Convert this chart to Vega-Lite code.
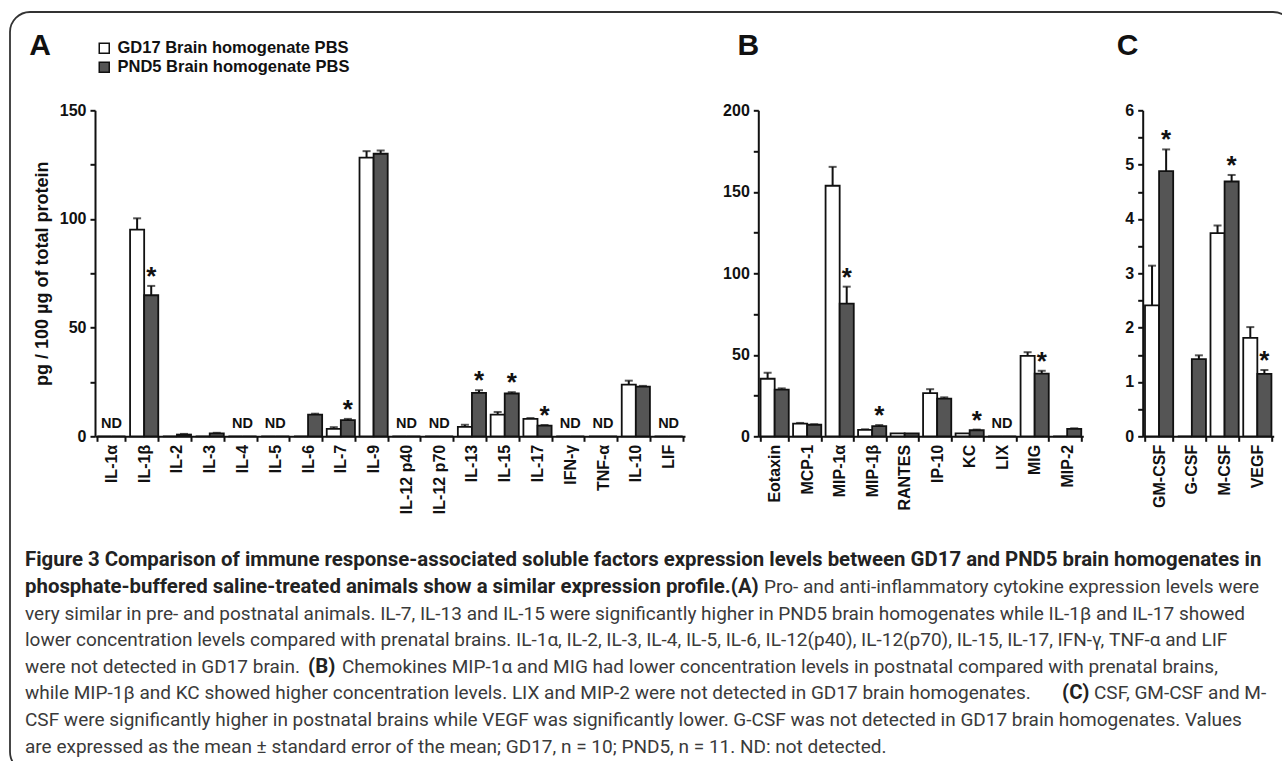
{
  "$schema": "https://vega.github.io/schema/vega-lite/v6.json",
  "background": "white",
  "padding": {"left": 9, "top": 11, "right": 0, "bottom": 0},
  "datasets": {
    "cyto": [
      {"factor": "IL-1α", "group": "GD17 Brain homogenate PBS", "value": 0, "upper": null, "note": "ND"},
      {"factor": "IL-1α", "group": "PND5 Brain homogenate PBS", "value": 0, "upper": null, "note": null},
      {"factor": "IL-1β", "group": "GD17 Brain homogenate PBS", "value": 95.1, "upper": 100.3, "note": null},
      {"factor": "IL-1β", "group": "PND5 Brain homogenate PBS", "value": 64.9, "upper": 69.2, "note": "*"},
      {"factor": "IL-2", "group": "GD17 Brain homogenate PBS", "value": 0, "upper": null, "note": null},
      {"factor": "IL-2", "group": "PND5 Brain homogenate PBS", "value": 0.8, "upper": 1.1, "note": null},
      {"factor": "IL-3", "group": "GD17 Brain homogenate PBS", "value": 0, "upper": null, "note": null},
      {"factor": "IL-3", "group": "PND5 Brain homogenate PBS", "value": 1.3, "upper": 1.6, "note": null},
      {"factor": "IL-4", "group": "GD17 Brain homogenate PBS", "value": 0, "upper": null, "note": "ND"},
      {"factor": "IL-4", "group": "PND5 Brain homogenate PBS", "value": 0, "upper": null, "note": null},
      {"factor": "IL-5", "group": "GD17 Brain homogenate PBS", "value": 0, "upper": null, "note": "ND"},
      {"factor": "IL-5", "group": "PND5 Brain homogenate PBS", "value": 0, "upper": null, "note": null},
      {"factor": "IL-6", "group": "GD17 Brain homogenate PBS", "value": 0, "upper": null, "note": null},
      {"factor": "IL-6", "group": "PND5 Brain homogenate PBS", "value": 10.0, "upper": 10.4, "note": null},
      {"factor": "IL-7", "group": "GD17 Brain homogenate PBS", "value": 3.4, "upper": 4.2, "note": null},
      {"factor": "IL-7", "group": "PND5 Brain homogenate PBS", "value": 7.4, "upper": 8.0, "note": "*"},
      {"factor": "IL-9", "group": "GD17 Brain homogenate PBS", "value": 128.2, "upper": 131.2, "note": null},
      {"factor": "IL-9", "group": "PND5 Brain homogenate PBS", "value": 130.0, "upper": 131.5, "note": null},
      {"factor": "IL-12 p40", "group": "GD17 Brain homogenate PBS", "value": 0, "upper": null, "note": "ND"},
      {"factor": "IL-12 p40", "group": "PND5 Brain homogenate PBS", "value": 0, "upper": null, "note": null},
      {"factor": "IL-12 p70", "group": "GD17 Brain homogenate PBS", "value": 0, "upper": null, "note": "ND"},
      {"factor": "IL-12 p70", "group": "PND5 Brain homogenate PBS", "value": 0, "upper": null, "note": null},
      {"factor": "IL-13", "group": "GD17 Brain homogenate PBS", "value": 4.3, "upper": 5.3, "note": null},
      {"factor": "IL-13", "group": "PND5 Brain homogenate PBS", "value": 20.0, "upper": 21.2, "note": "*"},
      {"factor": "IL-15", "group": "GD17 Brain homogenate PBS", "value": 10.0, "upper": 11.2, "note": null},
      {"factor": "IL-15", "group": "PND5 Brain homogenate PBS", "value": 19.7, "upper": 20.3, "note": "*"},
      {"factor": "IL-17", "group": "GD17 Brain homogenate PBS", "value": 8.0, "upper": 8.4, "note": null},
      {"factor": "IL-17", "group": "PND5 Brain homogenate PBS", "value": 4.9, "upper": 5.2, "note": "*"},
      {"factor": "IFN-γ", "group": "GD17 Brain homogenate PBS", "value": 0, "upper": null, "note": "ND"},
      {"factor": "IFN-γ", "group": "PND5 Brain homogenate PBS", "value": 0, "upper": null, "note": null},
      {"factor": "TNF-α", "group": "GD17 Brain homogenate PBS", "value": 0, "upper": null, "note": "ND"},
      {"factor": "TNF-α", "group": "PND5 Brain homogenate PBS", "value": 0, "upper": null, "note": null},
      {"factor": "IL-10", "group": "GD17 Brain homogenate PBS", "value": 23.8, "upper": 25.6, "note": null},
      {"factor": "IL-10", "group": "PND5 Brain homogenate PBS", "value": 22.9, "upper": 23.2, "note": null},
      {"factor": "LIF", "group": "GD17 Brain homogenate PBS", "value": 0, "upper": null, "note": "ND"},
      {"factor": "LIF", "group": "PND5 Brain homogenate PBS", "value": 0, "upper": null, "note": null}
    ],
    "chemo": [
      {"factor": "Eotaxin", "group": "GD17 Brain homogenate PBS", "value": 35.3, "upper": 39.0, "note": null},
      {"factor": "Eotaxin", "group": "PND5 Brain homogenate PBS", "value": 28.6, "upper": 29.4, "note": null},
      {"factor": "MCP-1", "group": "GD17 Brain homogenate PBS", "value": 7.8, "upper": 8.2, "note": null},
      {"factor": "MCP-1", "group": "PND5 Brain homogenate PBS", "value": 7.1, "upper": 7.4, "note": null},
      {"factor": "MIP-1α", "group": "GD17 Brain homogenate PBS", "value": 153.7, "upper": 165.3, "note": null},
      {"factor": "MIP-1α", "group": "PND5 Brain homogenate PBS", "value": 81.4, "upper": 91.8, "note": "*"},
      {"factor": "MIP-1β", "group": "GD17 Brain homogenate PBS", "value": 3.9, "upper": 4.3, "note": null},
      {"factor": "MIP-1β", "group": "PND5 Brain homogenate PBS", "value": 6.3, "upper": 6.9, "note": "*"},
      {"factor": "RANTES", "group": "GD17 Brain homogenate PBS", "value": 1.8, "upper": null, "note": null},
      {"factor": "RANTES", "group": "PND5 Brain homogenate PBS", "value": 1.8, "upper": null, "note": null},
      {"factor": "IP-10", "group": "GD17 Brain homogenate PBS", "value": 26.5, "upper": 28.9, "note": null},
      {"factor": "IP-10", "group": "PND5 Brain homogenate PBS", "value": 23.1, "upper": 23.9, "note": null},
      {"factor": "KC", "group": "GD17 Brain homogenate PBS", "value": 1.8, "upper": null, "note": null},
      {"factor": "KC", "group": "PND5 Brain homogenate PBS", "value": 3.7, "upper": 4.1, "note": "*"},
      {"factor": "LIX", "group": "GD17 Brain homogenate PBS", "value": 0, "upper": null, "note": "ND"},
      {"factor": "LIX", "group": "PND5 Brain homogenate PBS", "value": 0, "upper": null, "note": null},
      {"factor": "MIG", "group": "GD17 Brain homogenate PBS", "value": 49.4, "upper": 51.6, "note": null},
      {"factor": "MIG", "group": "PND5 Brain homogenate PBS", "value": 38.4, "upper": 40.2, "note": "*"},
      {"factor": "MIP-2", "group": "GD17 Brain homogenate PBS", "value": 0, "upper": null, "note": null},
      {"factor": "MIP-2", "group": "PND5 Brain homogenate PBS", "value": 4.5, "upper": 4.9, "note": null}
    ],
    "csf": [
      {"factor": "GM-CSF", "group": "GD17 Brain homogenate PBS", "value": 2.41, "upper": 3.14, "note": null},
      {"factor": "GM-CSF", "group": "PND5 Brain homogenate PBS", "value": 4.88, "upper": 5.28, "note": "*"},
      {"factor": "G-CSF", "group": "GD17 Brain homogenate PBS", "value": 0, "upper": null, "note": null},
      {"factor": "G-CSF", "group": "PND5 Brain homogenate PBS", "value": 1.42, "upper": 1.49, "note": null},
      {"factor": "M-CSF", "group": "GD17 Brain homogenate PBS", "value": 3.74, "upper": 3.88, "note": null},
      {"factor": "M-CSF", "group": "PND5 Brain homogenate PBS", "value": 4.69, "upper": 4.81, "note": "*"},
      {"factor": "VEGF", "group": "GD17 Brain homogenate PBS", "value": 1.81, "upper": 2.01, "note": null},
      {"factor": "VEGF", "group": "PND5 Brain homogenate PBS", "value": 1.15, "upper": 1.22, "note": "*"}
    ],
    "caption": [
      {"line": 1, "seg": "head", "text": "Figure 3 Comparison of immune response-associated soluble factors expression levels between GD17 and PND5 brain homogenates in"},
      {"line": 2, "seg": "head", "text": "phosphate-buffered saline-treated animals show a similar expression profile.(A)"},
      {"line": 2, "seg": "A-rest", "text": "Pro- and anti-inflammatory cytokine expression levels were"},
      {"line": 3, "seg": "body", "text": "very similar in pre- and postnatal animals. IL-7, IL-13 and IL-15 were significantly higher in PND5 brain homogenates while IL-1β and IL-17 showed"},
      {"line": 4, "seg": "body", "text": "lower concentration levels compared with prenatal brains. IL-1α, IL-2, IL-3, IL-4, IL-5, IL-6, IL-12(p40), IL-12(p70), IL-15, IL-17, IFN-γ, TNF-α and LIF"},
      {"line": 5, "seg": "body", "text": "were not detected in GD17 brain."},
      {"line": 5, "seg": "B-tag", "text": "(B)"},
      {"line": 5, "seg": "B-rest", "text": "Chemokines MIP-1α and MIG had lower concentration levels in postnatal compared with prenatal brains,"},
      {"line": 6, "seg": "body", "text": "while MIP-1β and KC showed higher concentration levels. LIX and MIP-2 were not detected in GD17 brain homogenates."},
      {"line": 6, "seg": "C-tag", "text": "(C)"},
      {"line": 6, "seg": "C-rest", "text": "CSF, GM-CSF and M-"},
      {"line": 7, "seg": "body", "text": "CSF were significantly higher in postnatal brains while VEGF was significantly lower. G-CSF was not detected in GD17 brain homogenates. Values"},
      {"line": 8, "seg": "body", "text": "are expressed as the mean ± standard error of the mean; GD17, n = 10; PND5, n = 11. ND: not detected."}
    ]
  },
  "vconcat": [
    {
      "vconcat": [
        {
          "width": 1283,
          "height": 760,
          "data": {"values": []},
          "mark": "point",
          "view": {"stroke": "#333333", "strokeWidth": 1.8, "cornerRadius": 20, "fill": null}
        }
      ],
      "bounds": "flush"
    },
    {
      "vconcat": [
        {
          "hconcat": [
            {"width": 1, "height": 326, "data": {"values": []}, "mark": "point"},
            {
              "hconcat": [
                {
                  "width": 590,
                  "height": 326,
                  "title": {"text": "A", "dx": -4, "offset": 41},
                  "data": {"name": "cyto"},
                  "encoding": {
                    "x": {"field": "factor", "type": "nominal", "title": null, "sort": ["IL-1α", "IL-1β", "IL-2", "IL-3", "IL-4", "IL-5", "IL-6", "IL-7", "IL-9", "IL-12 p40", "IL-12 p70", "IL-13", "IL-15", "IL-17", "IFN-γ", "TNF-α", "IL-10", "LIF"], "scale": {"paddingInner": 0.14, "paddingOuter": 0.07}}
                  },
                  "layer": [
                    {
                      "transform": [{"filter": "isValid(datum.upper)"}],
                      "mark": {"type": "rule", "color": "#111", "strokeWidth": 2},
                      "encoding": {
                        "xOffset": {"field": "group", "type": "nominal", "scale": {"paddingInner": 0, "paddingOuter": 0}},
                        "y": {"field": "value", "type": "quantitative", "title": "pg / 100 µg of total protein", "scale": {"domain": [0, 150], "nice": false}, "axis": {"values": [0, 25, 50, 75, 100, 125, 150], "labelExpr": "datum.value % 50 === 0 ? datum.label : ''"}},
                        "y2": {"field": "upper"}
                      }
                    },
                    {
                      "transform": [{"filter": "isValid(datum.upper)"}],
                      "mark": {"type": "tick", "orient": "horizontal", "color": "#111", "thickness": 2, "size": 8},
                      "encoding": {
                        "xOffset": {"field": "group", "type": "nominal", "scale": {"paddingInner": 0, "paddingOuter": 0}},
                        "y": {"field": "upper", "type": "quantitative", "title": "pg / 100 µg of total protein", "scale": {"domain": [0, 150], "nice": false}, "axis": {"values": [0, 25, 50, 75, 100, 125, 150], "labelExpr": "datum.value % 50 === 0 ? datum.label : ''"}}
                      }
                    },
                    {
                      "mark": {"type": "bar", "stroke": "#111", "strokeWidth": 1.8},
                      "encoding": {
                        "xOffset": {"field": "group", "type": "nominal", "scale": {"paddingInner": 0, "paddingOuter": 0}},
                        "y": {"field": "value", "type": "quantitative", "title": "pg / 100 µg of total protein", "scale": {"domain": [0, 150], "nice": false}, "axis": {"values": [0, 25, 50, 75, 100, 125, 150], "labelExpr": "datum.value % 50 === 0 ? datum.label : ''"}},
                        "color": {"field": "group", "type": "nominal", "scale": {"domain": ["GD17 Brain homogenate PBS", "PND5 Brain homogenate PBS"], "range": ["#ffffff", "#555555"]}, "legend": {"title": null, "orient": "none", "legendX": 86, "legendY": 28, "symbolType": "square", "symbolSize": 100, "symbolStrokeColor": "#111", "symbolStrokeWidth": 1.5, "labelFont": "Liberation Sans", "labelFontSize": 16.5, "labelFontWeight": "bold", "labelColor": "#111", "labelLimit": 0, "rowPadding": 2, "padding": 0, "labelOffset": 5}}
                      }
                    },
                    {
                      "transform": [{"filter": "datum.note === '*'"}],
                      "mark": {"type": "text", "font": "Liberation Sans", "fontSize": 26, "fontWeight": "bold", "baseline": "alphabetic", "dy": -1, "color": "#111"},
                      "encoding": {
                        "xOffset": {"field": "group", "type": "nominal", "scale": {"paddingInner": 0, "paddingOuter": 0}},
                        "y": {"field": "upper", "type": "quantitative", "title": "pg / 100 µg of total protein", "scale": {"domain": [0, 150], "nice": false}, "axis": {"values": [0, 25, 50, 75, 100, 125, 150], "labelExpr": "datum.value % 50 === 0 ? datum.label : ''"}},
                        "text": {"field": "note"}
                      }
                    },
                    {
                      "transform": [{"filter": "datum.note === 'ND'"}],
                      "mark": {"type": "text", "font": "Liberation Sans", "fontSize": 14.5, "fontWeight": "bold", "baseline": "alphabetic", "dy": -8, "color": "#111"},
                      "encoding": {
                        "y": {"field": "value", "type": "quantitative", "title": "pg / 100 µg of total protein", "scale": {"domain": [0, 150], "nice": false}, "axis": {"values": [0, 25, 50, 75, 100, 125, 150], "labelExpr": "datum.value % 50 === 0 ? datum.label : ''"}},
                        "text": {"field": "note"}
                      }
                    }
                  ]
                },
                {
                  "hconcat": [
                    {
                      "width": 325,
                      "height": 326,
                      "title": {"text": "B", "dx": 15, "offset": 41},
                      "data": {"name": "chemo"},
                      "encoding": {
                        "x": {"field": "factor", "type": "nominal", "title": null, "sort": ["Eotaxin", "MCP-1", "MIP-1α", "MIP-1β", "RANTES", "IP-10", "KC", "LIX", "MIG", "MIP-2"], "scale": {"paddingInner": 0.14, "paddingOuter": 0.07}}
                      },
                      "layer": [
                        {
                          "transform": [{"filter": "isValid(datum.upper)"}],
                          "mark": {"type": "rule", "color": "#111", "strokeWidth": 2},
                          "encoding": {
                            "xOffset": {"field": "group", "type": "nominal", "scale": {"paddingInner": 0, "paddingOuter": 0}},
                            "y": {"field": "value", "type": "quantitative", "title": null, "scale": {"domain": [0, 200], "nice": false}, "axis": {"values": [0, 25, 50, 75, 100, 125, 150, 175, 200], "labelExpr": "datum.value % 50 === 0 ? datum.label : ''"}},
                            "y2": {"field": "upper"}
                          }
                        },
                        {
                          "transform": [{"filter": "isValid(datum.upper)"}],
                          "mark": {"type": "tick", "orient": "horizontal", "color": "#111", "thickness": 2, "size": 8},
                          "encoding": {
                            "xOffset": {"field": "group", "type": "nominal", "scale": {"paddingInner": 0, "paddingOuter": 0}},
                            "y": {"field": "upper", "type": "quantitative", "title": null, "scale": {"domain": [0, 200], "nice": false}, "axis": {"values": [0, 25, 50, 75, 100, 125, 150, 175, 200], "labelExpr": "datum.value % 50 === 0 ? datum.label : ''"}}
                          }
                        },
                        {
                          "mark": {"type": "bar", "stroke": "#111", "strokeWidth": 1.8},
                          "encoding": {
                            "xOffset": {"field": "group", "type": "nominal", "scale": {"paddingInner": 0, "paddingOuter": 0}},
                            "y": {"field": "value", "type": "quantitative", "title": null, "scale": {"domain": [0, 200], "nice": false}, "axis": {"values": [0, 25, 50, 75, 100, 125, 150, 175, 200], "labelExpr": "datum.value % 50 === 0 ? datum.label : ''"}},
                            "color": {"field": "group", "type": "nominal", "scale": {"domain": ["GD17 Brain homogenate PBS", "PND5 Brain homogenate PBS"], "range": ["#ffffff", "#555555"]}, "legend": {"title": null, "orient": "none", "legendX": 86, "legendY": 28, "symbolType": "square", "symbolSize": 100, "symbolStrokeColor": "#111", "symbolStrokeWidth": 1.5, "labelFont": "Liberation Sans", "labelFontSize": 16.5, "labelFontWeight": "bold", "labelColor": "#111", "labelLimit": 0, "rowPadding": 2, "padding": 0, "labelOffset": 5}}
                          }
                        },
                        {
                          "transform": [{"filter": "datum.note === '*'"}],
                          "mark": {"type": "text", "font": "Liberation Sans", "fontSize": 26, "fontWeight": "bold", "baseline": "alphabetic", "dy": -1, "color": "#111"},
                          "encoding": {
                            "xOffset": {"field": "group", "type": "nominal", "scale": {"paddingInner": 0, "paddingOuter": 0}},
                            "y": {"field": "upper", "type": "quantitative", "title": null, "scale": {"domain": [0, 200], "nice": false}, "axis": {"values": [0, 25, 50, 75, 100, 125, 150, 175, 200], "labelExpr": "datum.value % 50 === 0 ? datum.label : ''"}},
                            "text": {"field": "note"}
                          }
                        },
                        {
                          "transform": [{"filter": "datum.note === 'ND'"}],
                          "mark": {"type": "text", "font": "Liberation Sans", "fontSize": 14.5, "fontWeight": "bold", "baseline": "alphabetic", "dy": -8, "color": "#111"},
                          "encoding": {
                            "y": {"field": "value", "type": "quantitative", "title": null, "scale": {"domain": [0, 200], "nice": false}, "axis": {"values": [0, 25, 50, 75, 100, 125, 150, 175, 200], "labelExpr": "datum.value % 50 === 0 ? datum.label : ''"}},
                            "text": {"field": "note"}
                          }
                        }
                      ]
                    },
                    {
                      "width": 131,
                      "height": 326,
                      "title": {"text": "C", "dx": -8, "offset": 41},
                      "data": {"name": "csf"},
                      "encoding": {
                        "x": {"field": "factor", "type": "nominal", "title": null, "sort": ["GM-CSF", "G-CSF", "M-CSF", "VEGF"], "scale": {"paddingInner": 0.14, "paddingOuter": 0.07}}
                      },
                      "layer": [
                        {
                          "transform": [{"filter": "isValid(datum.upper)"}],
                          "mark": {"type": "rule", "color": "#111", "strokeWidth": 2},
                          "encoding": {
                            "xOffset": {"field": "group", "type": "nominal", "scale": {"paddingInner": 0, "paddingOuter": 0}},
                            "y": {"field": "value", "type": "quantitative", "title": null, "scale": {"domain": [0, 6], "nice": false}, "axis": {"values": [0, 0.5, 1, 1.5, 2, 2.5, 3, 3.5, 4, 4.5, 5, 5.5, 6], "labelExpr": "datum.value % 1 === 0 ? format(datum.value, 'd') : ''"}},
                            "y2": {"field": "upper"}
                          }
                        },
                        {
                          "transform": [{"filter": "isValid(datum.upper)"}],
                          "mark": {"type": "tick", "orient": "horizontal", "color": "#111", "thickness": 2, "size": 8},
                          "encoding": {
                            "xOffset": {"field": "group", "type": "nominal", "scale": {"paddingInner": 0, "paddingOuter": 0}},
                            "y": {"field": "upper", "type": "quantitative", "title": null, "scale": {"domain": [0, 6], "nice": false}, "axis": {"values": [0, 0.5, 1, 1.5, 2, 2.5, 3, 3.5, 4, 4.5, 5, 5.5, 6], "labelExpr": "datum.value % 1 === 0 ? format(datum.value, 'd') : ''"}}
                          }
                        },
                        {
                          "mark": {"type": "bar", "stroke": "#111", "strokeWidth": 1.8},
                          "encoding": {
                            "xOffset": {"field": "group", "type": "nominal", "scale": {"paddingInner": 0, "paddingOuter": 0}},
                            "y": {"field": "value", "type": "quantitative", "title": null, "scale": {"domain": [0, 6], "nice": false}, "axis": {"values": [0, 0.5, 1, 1.5, 2, 2.5, 3, 3.5, 4, 4.5, 5, 5.5, 6], "labelExpr": "datum.value % 1 === 0 ? format(datum.value, 'd') : ''"}},
                            "color": {"field": "group", "type": "nominal", "scale": {"domain": ["GD17 Brain homogenate PBS", "PND5 Brain homogenate PBS"], "range": ["#ffffff", "#555555"]}, "legend": {"title": null, "orient": "none", "legendX": 86, "legendY": 28, "symbolType": "square", "symbolSize": 100, "symbolStrokeColor": "#111", "symbolStrokeWidth": 1.5, "labelFont": "Liberation Sans", "labelFontSize": 16.5, "labelFontWeight": "bold", "labelColor": "#111", "labelLimit": 0, "rowPadding": 2, "padding": 0, "labelOffset": 5}}
                          }
                        },
                        {
                          "transform": [{"filter": "datum.note === '*'"}],
                          "mark": {"type": "text", "font": "Liberation Sans", "fontSize": 26, "fontWeight": "bold", "baseline": "alphabetic", "dy": -1, "color": "#111"},
                          "encoding": {
                            "xOffset": {"field": "group", "type": "nominal", "scale": {"paddingInner": 0, "paddingOuter": 0}},
                            "y": {"field": "upper", "type": "quantitative", "title": null, "scale": {"domain": [0, 6], "nice": false}, "axis": {"values": [0, 0.5, 1, 1.5, 2, 2.5, 3, 3.5, 4, 4.5, 5, 5.5, 6], "labelExpr": "datum.value % 1 === 0 ? format(datum.value, 'd') : ''"}},
                            "text": {"field": "note"}
                          }
                        }
                      ]
                    }
                  ],
                  "spacing": 59.4,
                  "bounds": "flush"
                }
              ],
              "spacing": 73.3,
              "bounds": "flush"
            }
          ],
          "spacing": 84,
          "bounds": "flush"
        },
        {
          "width": 1240,
          "height": 213,
          "data": {"name": "caption"},
          "encoding": {
            "y": {"field": "line", "type": "ordinal", "axis": null, "scale": {"type": "point", "padding": 0.5}},
            "x": {"value": 0},
            "text": {"field": "text"}
          },
          "layer": [
            {"transform": [{"filter": "datum.seg === 'head'"}], "mark": {"type": "text", "align": "left", "baseline": "middle", "font": "Roboto", "fontSize": 20.4, "fontWeight": "bold", "color": "#222222", "dx": 15}},
            {"transform": [{"filter": "datum.seg === 'body'"}], "mark": {"type": "text", "align": "left", "baseline": "middle", "font": "Roboto", "fontSize": 19, "fontWeight": "normal", "color": "#3a3a3a", "dx": 15}},
            {"transform": [{"filter": "datum.seg === 'A-rest'"}], "mark": {"type": "text", "align": "left", "baseline": "middle", "font": "Roboto", "fontSize": 19, "fontWeight": "normal", "color": "#3a3a3a", "dx": 754}},
            {"transform": [{"filter": "datum.seg === 'B-tag'"}], "mark": {"type": "text", "align": "left", "baseline": "middle", "font": "Roboto", "fontSize": 20.4, "fontWeight": "bold", "color": "#222222", "dx": 298}},
            {"transform": [{"filter": "datum.seg === 'B-rest'"}], "mark": {"type": "text", "align": "left", "baseline": "middle", "font": "Roboto", "fontSize": 19, "fontWeight": "normal", "color": "#3a3a3a", "dx": 332}},
            {"transform": [{"filter": "datum.seg === 'C-tag'"}], "mark": {"type": "text", "align": "left", "baseline": "middle", "font": "Roboto", "fontSize": 20.4, "fontWeight": "bold", "color": "#222222", "dx": 1052}},
            {"transform": [{"filter": "datum.seg === 'C-rest'"}], "mark": {"type": "text", "align": "left", "baseline": "middle", "font": "Roboto", "fontSize": 19, "fontWeight": "normal", "color": "#3a3a3a", "dx": 1084}}
          ]
        }
      ],
      "spacing": 436.7,
      "bounds": "flush"
    }
  ],
  "spacing": 98.3,
  "bounds": "flush",
  "config": {
    "view": {"stroke": null},
    "font": "Liberation Sans",
    "axis": {"labelFont": "Liberation Sans", "labelFontWeight": "bold", "labelColor": "#111111", "domainColor": "#111111", "tickColor": "#111111", "domainWidth": 2, "tickWidth": 2, "grid": false, "titleFont": "Liberation Sans", "titleFontWeight": "bold", "titleColor": "#111111"},
    "axisX": {"labelAngle": 270, "labelFontSize": 16, "tickBand": "extent", "tickSize": 5, "labelPadding": 3, "labelAlign": "right", "labelBaseline": "middle"},
    "axisY": {"labelFontSize": 16, "tickSize": 5, "labelPadding": 4, "titleFontSize": 18, "titlePadding": 8},
    "title": {"font": "Liberation Sans", "fontSize": 30, "fontWeight": "bold", "color": "#111111", "anchor": "start", "frame": "bounds"}
  }
}
